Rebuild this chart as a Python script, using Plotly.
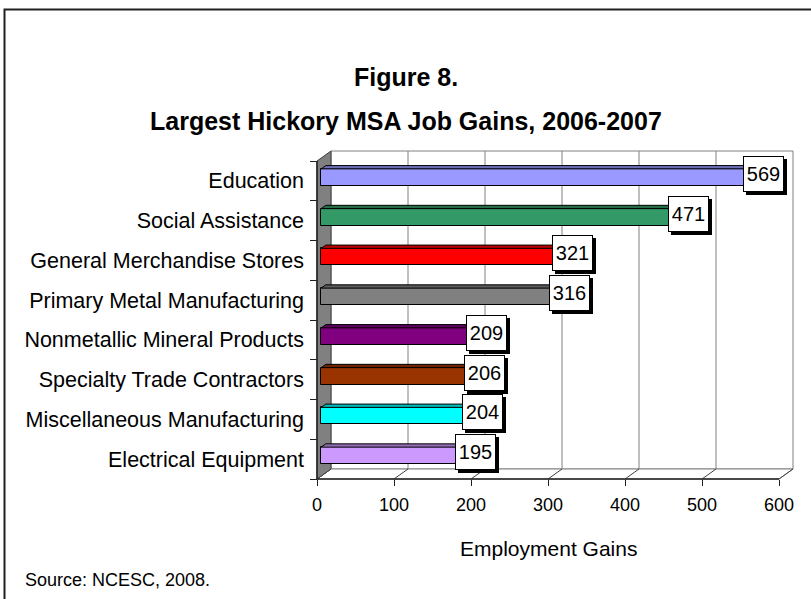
import plotly.graph_objects as go

# ---- data ----
categories = [
    "Education",
    "Social Assistance",
    "General Merchandise Stores",
    "Primary Metal Manufacturing",
    "Nonmetallic Mineral Products",
    "Specialty Trade Contractors",
    "Miscellaneous Manufacturing",
    "Electrical Equipment",
]
job_gains = [569, 471, 321, 316, 209, 206, 204, 195]
bar_colors = ["#9999FF", "#339966", "#FF0000", "#808080",
              "#800080", "#993300", "#00FFFF", "#CC99FF"]
x_ticks = [0, 100, 200, 300, 400, 500, 600]

FONT = "Arial, Liberation Sans, sans-serif"
W, H = 811, 599

# ---- pixel geometry of the pseudo-3D frame ----
PX_PER_UNIT = 0.77           # value units -> pixels
X0_PX = 317                  # pixel of value 0 on the front plane
AXIS_Y_PX = 479              # pixel row of the front floor edge
CAT_PX = 39.75               # pixels per category slot
DEPTH_DX, DEPTH_DY = 14, 10  # wall depth offset (right, up) in px

xmin = -X0_PX / PX_PER_UNIT
xmax = xmin + W / PX_PER_UNIT
ymin = -0.5 - (H - AXIS_Y_PX) / CAT_PX
ymax = -0.5 + AXIS_Y_PX / CAT_PX

def ux(px):   # horizontal pixel distance -> value units
    return px / PX_PER_UNIT

def uy(px):   # vertical pixel distance -> category units
    return px / CAT_PX

n = len(categories)
pos = [n - 1 - i for i in range(n)]      # top category gets the highest position
xmax_val = x_ticks[-1]
y_floor = -0.5
y_top = n - 0.5
ddx, ddy = ux(DEPTH_DX), uy(DEPTH_DY)

def darker(hexc, f=0.72):
    r, g, b = (int(hexc[i:i + 2], 16) for i in (1, 3, 5))
    return "#%02x%02x%02x" % (int(r * f), int(g * f), int(b * f))

shapes = []
grid = "#808080"

# back wall
shapes.append(dict(type="rect", xref="x", yref="y", x0=ddx, x1=xmax_val + ddx,
                   y0=y_floor + ddy, y1=y_top + ddy, fillcolor="white",
                   line=dict(color=grid, width=1), layer="below"))
for t in x_ticks[1:-1]:
    shapes.append(dict(type="line", xref="x", yref="y", x0=t + ddx, x1=t + ddx,
                       y0=y_floor + ddy, y1=y_top + ddy,
                       line=dict(color=grid, width=1), layer="below"))
# floor
shapes.append(dict(type="path", xref="x", yref="y",
                   path=f"M 0,{y_floor} L {xmax_val},{y_floor} L {xmax_val + ddx},{y_floor + ddy} "
                        f"L {ddx},{y_floor + ddy} Z",
                   fillcolor="white", line=dict(color=grid, width=1), layer="below"))
for t in x_ticks:
    shapes.append(dict(type="line", xref="x", yref="y", x0=t, x1=t + ddx,
                       y0=y_floor, y1=y_floor + ddy,
                       line=dict(color="#404040", width=1), layer="below"))
# left side wall
shapes.append(dict(type="path", xref="x", yref="y",
                   path=f"M 0,{y_floor} L 0,{y_top} L {ddx},{y_top + ddy} L {ddx},{y_floor + ddy} Z",
                   fillcolor="#808080", line=dict(color="#404040", width=1), layer="below"))
# front axis lines
shapes.append(dict(type="line", xref="x", yref="y", x0=0, x1=xmax_val, y0=y_floor, y1=y_floor,
                   line=dict(color="#202020", width=1.5)))
shapes.append(dict(type="line", xref="x", yref="y", x0=0, x1=0, y0=y_floor, y1=y_top,
                   line=dict(color="#202020", width=1.5)))

# bars: front faces drawn by go.Bar, tops and ends as parallelograms
bar_base = ux(4.2)
bar_w = uy(17)
bar_shift = uy(3.5)
bdx, bdy = ux(4.6), uy(3.3)

for p, v, c in zip(pos, job_gains, bar_colors):
    x0, x1 = bar_base, bar_base + v
    top = p + bar_shift + bar_w / 2
    bot = p + bar_shift - bar_w / 2
    shapes.append(dict(type="path", xref="x", yref="y",
                       path=f"M {x0},{top} L {x0 + bdx},{top + bdy} L {x1 + bdx},{top + bdy} L {x1},{top} Z",
                       fillcolor=darker(c), line=dict(color="black", width=1), layer="above"))
    shapes.append(dict(type="path", xref="x", yref="y",
                       path=f"M {x1},{top} L {x1 + bdx},{top + bdy} L {x1 + bdx},{bot + bdy} L {x1},{bot} Z",
                       fillcolor=darker(c, 0.55), line=dict(color="black", width=1), layer="above"))

fig = go.Figure()
fig.add_trace(go.Bar(
    y=pos, x=job_gains, base=bar_base, orientation="h",
    width=bar_w, offset=bar_shift - bar_w / 2,
    marker=dict(color=bar_colors, line=dict(color="black", width=1)),
    hoverinfo="skip", showlegend=False,
))

# value labels with drop shadow
annotations = []
for p, v in zip(pos, job_gains):
    ax = bar_base + v + ux(4.5)
    ay = p + uy(7)
    annotations.append(dict(x=ax, y=ay, xref="x", yref="y", text=" ", showarrow=False,
                            xanchor="center", yanchor="middle",
                            width=37, height=32, bgcolor="black", borderwidth=1,
                            bordercolor="black", xshift=3, yshift=-3,
                            font=dict(family=FONT, size=20)))
    annotations.append(dict(x=ax, y=ay, xref="x", yref="y", text=str(v), showarrow=False,
                            xanchor="center", yanchor="middle",
                            width=37, height=32, bgcolor="white", borderwidth=1,
                            bordercolor="black", font=dict(family=FONT, size=20, color="black")))

def paper_x(px):
    return px / W

def paper_y(py):
    return 1 - py / H

def text_at(txt, px, py, size, anchor="center"):
    return dict(text=txt, x=paper_x(px), y=paper_y(py), xref="paper", yref="paper",
                xanchor=anchor, yanchor="middle", showarrow=False,
                font=dict(family=FONT, size=size, color="black"))

annotations += [
    text_at("<b>Figure 8.</b>", 406, 77, 25),
    text_at("<b>Largest Hickory MSA Job Gains, 2006-2007</b>", 406, 121, 25),
    text_at("Employment Gains", 548, 548, 21),
    text_at("Source: NCESC, 2008.", 23, 580, 18, anchor="left"),
]

# outer frame
shapes.append(dict(type="rect", xref="paper", yref="paper", x0=paper_x(4.5), x1=1.05,
                   y0=-0.05, y1=paper_y(9.5), line=dict(color="#202020", width=2)))

fig.update_layout(
    width=W, height=H, margin=dict(l=0, r=0, t=0, b=0),
    paper_bgcolor="white", plot_bgcolor="white",
    shapes=shapes, annotations=annotations, bargap=0,
    xaxis=dict(range=[xmin, xmax], domain=[0, 1], anchor="free",
               position=(H - AXIS_Y_PX) / H,
               tickvals=x_ticks, ticktext=[str(t) for t in x_ticks],
               ticks="outside", ticklen=6, tickcolor="#202020",
               ticklabelstandoff=3,
               showgrid=False, zeroline=False, showline=False,
               tickfont=dict(family=FONT, size=18, color="black")),
    yaxis=dict(range=[ymin, ymax], domain=[0, 1], anchor="free",
               position=X0_PX / W,
               tickvals=pos, ticktext=categories, ticks="",
               ticklabelstandoff=13,
               showgrid=False, zeroline=False, showline=False,
               tickfont=dict(family=FONT, size=21.5, color="black")),
    yaxis2=dict(range=[ymin, ymax], domain=[0, 1], anchor="free", overlaying="y",
                position=X0_PX / W,
                tickvals=[k - 0.5 for k in range(n + 1)], showticklabels=False,
                ticks="outside", ticklen=7, tickcolor="#202020",
                showgrid=False, zeroline=False, showline=False),
)
# invisible trace so the tick axis is drawn
fig.add_trace(go.Scatter(x=[0], y=[0], yaxis="y2", mode="markers",
                         marker=dict(opacity=0), hoverinfo="skip", showlegend=False))

fig.write_html("out.html")
